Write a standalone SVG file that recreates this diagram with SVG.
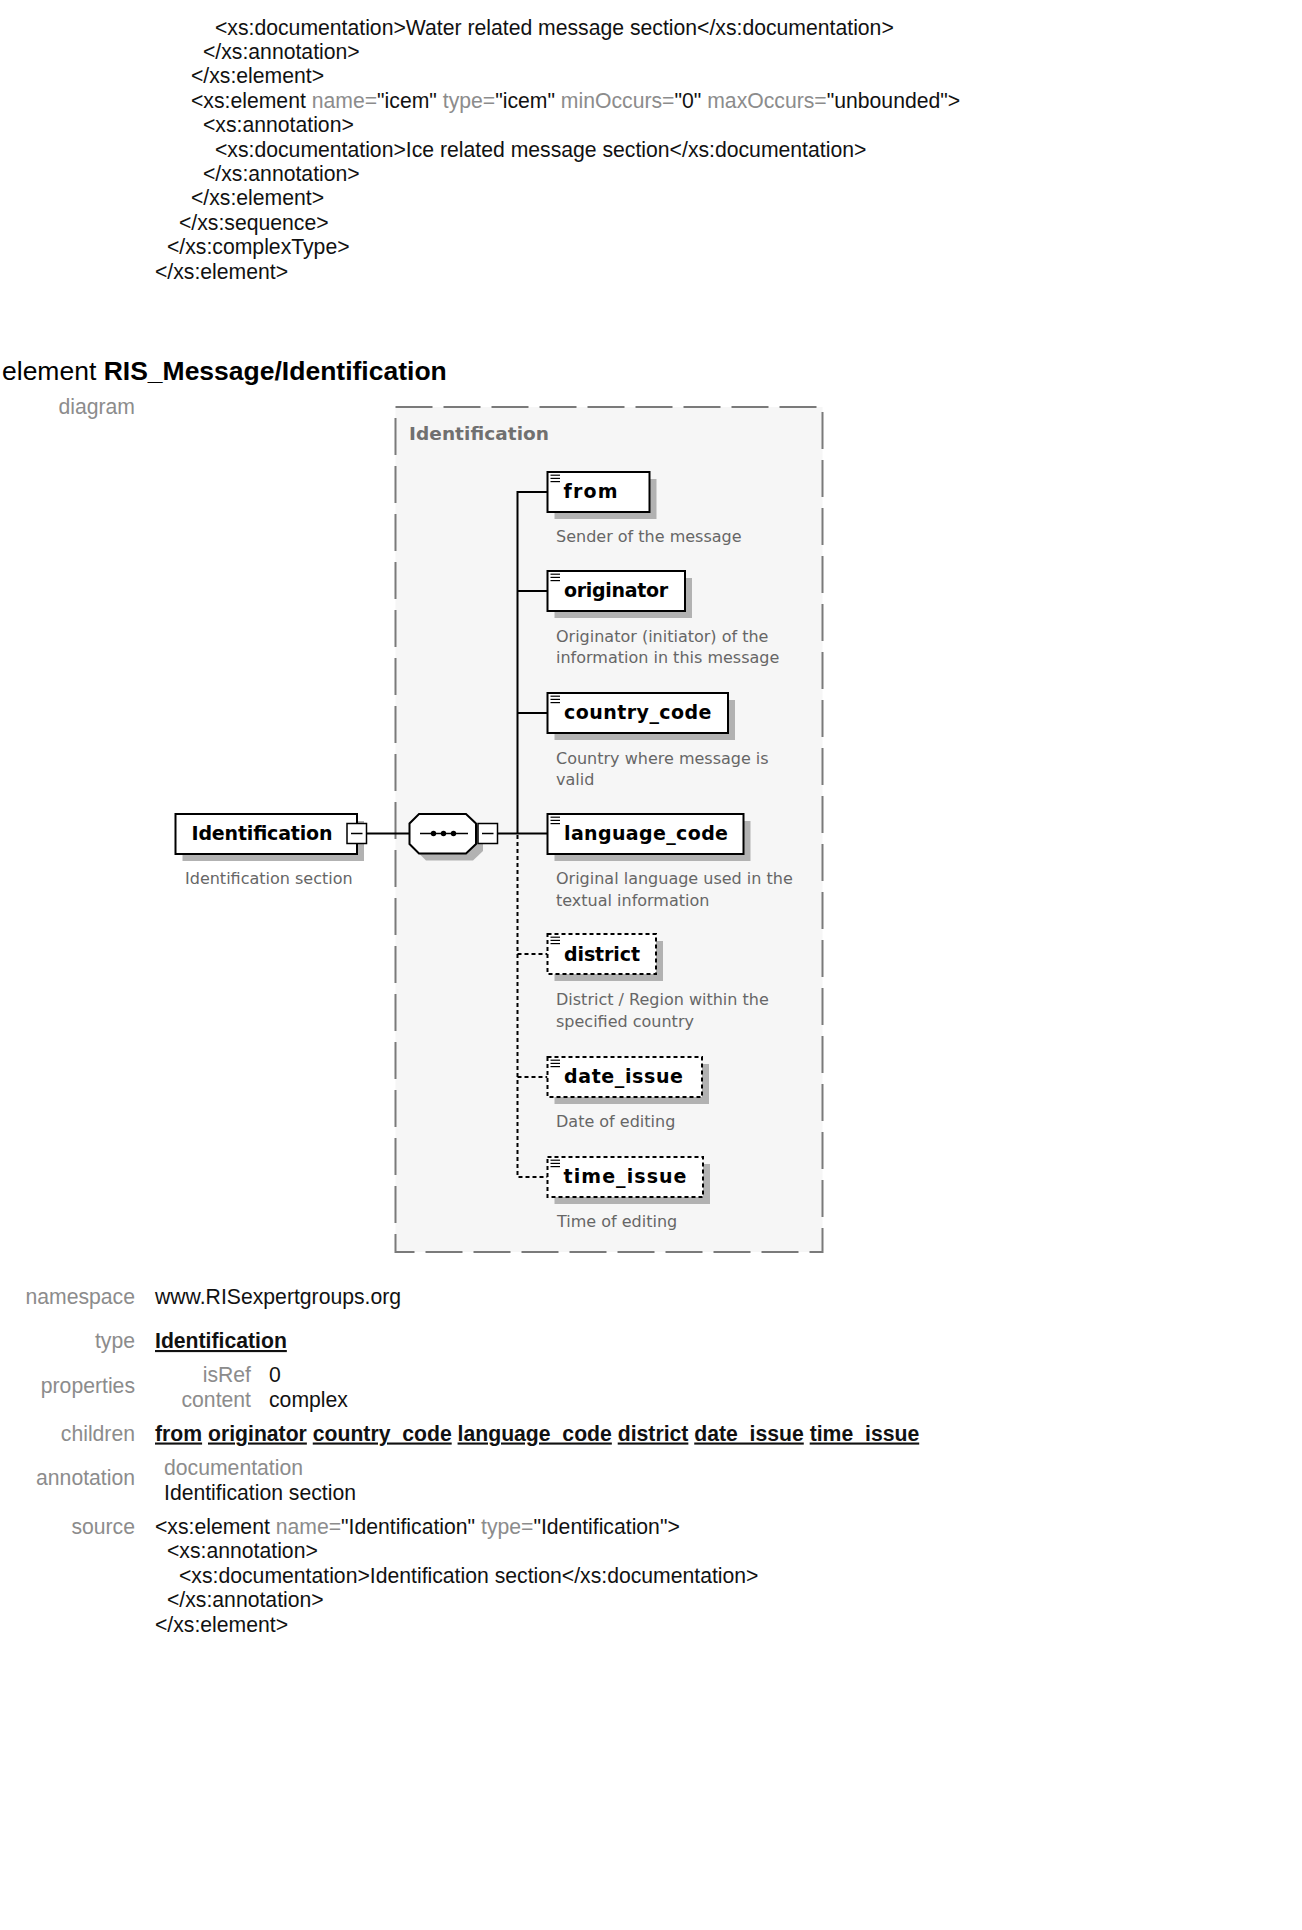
<svg xmlns="http://www.w3.org/2000/svg" xmlns:xlink="http://www.w3.org/1999/xlink" width="1302" height="1930" viewBox="0 0 1302 1930">
<style>
.code{font-family:"Liberation Sans",Arial,sans-serif;font-size:21.2px;fill:#111}
.att{fill:#8c8c8c}
.lbl{font-family:"Liberation Sans",Arial,sans-serif;font-size:21.2px;fill:#8c8c8c;text-anchor:end}
.lnk{font-weight:bold;text-decoration:underline}
.nm{font-family:"DejaVu Sans",Verdana,sans-serif;font-size:19px;font-weight:bold;fill:#000}
.desc{font-family:"DejaVu Sans",Verdana,sans-serif;font-size:16px;fill:#666}
.box{fill:#fff;stroke:#000;stroke-width:2}
.dbox{fill:#fff;stroke:#000;stroke-width:2;stroke-dasharray:4 3}
.sbox{fill:#fff;stroke:#000;stroke-width:1.5}
.shadow{fill:#b2b2b2}
.ln{stroke:#000;stroke-width:2;fill:none}
.dln{stroke:#000;stroke-width:2;fill:none;stroke-dasharray:4 3}
.icon{stroke:#000;stroke-width:1.2}
</style>
<defs>
<g id="ic">
<line class="icon" x1="3" y1="3.2" x2="12.5" y2="3.2"/>
<line class="icon" x1="3" y1="6.4" x2="12.5" y2="6.4"/>
<line class="icon" x1="3" y1="9.6" x2="12.5" y2="9.6"/>
</g>
</defs>
<rect width="1302" height="1930" fill="#fff"/>

<!-- source code continuation at top -->
<g id="top-source">
<text class="code" x="215" y="34.5">&lt;xs:documentation&gt;Water related message section&lt;/xs:documentation&gt;</text>
<text class="code" x="203" y="58.9">&lt;/xs:annotation&gt;</text>
<text class="code" x="191" y="83.3">&lt;/xs:element&gt;</text>
<text class="code" x="191" y="107.7">&lt;xs:element <tspan class="att">name=</tspan>"icem" <tspan class="att">type=</tspan>"icem" <tspan class="att">minOccurs=</tspan>"0" <tspan class="att">maxOccurs=</tspan>"unbounded"&gt;</text>
<text class="code" x="203" y="132.1">&lt;xs:annotation&gt;</text>
<text class="code" x="215" y="156.5">&lt;xs:documentation&gt;Ice related message section&lt;/xs:documentation&gt;</text>
<text class="code" x="203" y="180.9">&lt;/xs:annotation&gt;</text>
<text class="code" x="191" y="205.3">&lt;/xs:element&gt;</text>
<text class="code" x="179" y="229.7">&lt;/xs:sequence&gt;</text>
<text class="code" x="167" y="254.1">&lt;/xs:complexType&gt;</text>
<text class="code" x="155" y="278.5">&lt;/xs:element&gt;</text>
</g>

<g id="heading">
<text class="code" x="2" y="380" style="font-size:26.5px;fill:#000">element <tspan font-weight="bold">RIS_Message/Identification</tspan></text>
<text class="lbl" x="135" y="414">diagram</text>
</g>

<!-- type frame -->
<g id="frame-Identification">
<rect x="395.5" y="407" width="427" height="845" fill="#f6f6f6" stroke="#7a7a7a" stroke-width="2" stroke-dasharray="37 11"/>
<text x="409" y="440" style="font-family:'DejaVu Sans',Verdana,sans-serif;font-size:18.5px;font-weight:bold;fill:#707070" textLength="140">Identification</text>
</g>

<g id="connectors">
<line class="ln" x1="366.5" y1="833.5" x2="409.5" y2="833.5"/>
<line class="ln" x1="476" y1="833.5" x2="478" y2="833.5"/>
<line class="ln" x1="497.5" y1="833.5" x2="547.5" y2="833.5"/>
<path class="ln" d="M547.5 492 H517.5 V834"/>
<line class="ln" x1="517.5" y1="591" x2="547.5" y2="591"/>
<line class="ln" x1="517.5" y1="713" x2="547.5" y2="713"/>
<path class="dln" d="M517.5 835 V1177 H547.5"/>
<line class="dln" x1="517.5" y1="954" x2="547.5" y2="954"/>
<line class="dln" x1="517.5" y1="1077" x2="547.5" y2="1077"/>
</g>

<g id="node-Identification">
<rect class="shadow" x="182.5" y="821" width="181.5" height="40"/>
<rect class="box" x="175.5" y="814" width="181.5" height="40"/>
<text class="nm" x="191.5" y="840" textLength="141">Identification</text>
<rect class="sbox" x="347" y="823.5" width="19.5" height="20"/>
<line class="ln" style="stroke-width:1.5" x1="351" y1="833.5" x2="362.5" y2="833.5"/>
<text class="desc" x="185" y="884">Identification section</text>
</g>

<g id="node-sequence">
<polygon class="shadow" points="426,821 473,821 483,830.5 483,851 473,860.5 426,860.5 416.5,851 416.5,830.5"/>
<polygon class="box" points="419,814 466,814 476,823.5 476,844 466,853.5 419,853.5 409.5,844 409.5,823.5"/>
<line class="ln" style="stroke-width:1.5" x1="420" y1="833.5" x2="468" y2="833.5"/>
<circle cx="433.5" cy="833.5" r="2.7" fill="#000"/>
<circle cx="443.5" cy="833.5" r="2.7" fill="#000"/>
<circle cx="453.5" cy="833.5" r="2.7" fill="#000"/>
<rect class="sbox" x="478" y="823.5" width="19.5" height="20"/>
<line class="ln" style="stroke-width:1.5" x1="482" y1="833.5" x2="493.5" y2="833.5"/>
</g>

<g id="node-from">
<rect class="shadow" x="554.5" y="479" width="102" height="40"/>
<rect class="box" x="547.5" y="472" width="102" height="40"/>
<use xlink:href="#ic" href="#ic" x="547.5" y="472"/>
<text class="nm" x="563.5" y="498" textLength="54">from</text>
<text class="desc" x="556" y="542">Sender of the message</text>
</g>

<g id="node-originator">
<rect class="shadow" x="554.5" y="578" width="137.5" height="40"/>
<rect class="box" x="547.5" y="571" width="137.5" height="40"/>
<use xlink:href="#ic" href="#ic" x="547.5" y="571"/>
<text class="nm" x="564" y="597" textLength="104">originator</text>
<text class="desc" x="556" y="641.5">Originator (initiator) of the</text>
<text class="desc" x="556" y="663">information in this message</text>
</g>

<g id="node-country_code">
<rect class="shadow" x="554.5" y="700" width="180.5" height="40"/>
<rect class="box" x="547.5" y="693" width="180.5" height="40"/>
<use xlink:href="#ic" href="#ic" x="547.5" y="693"/>
<text class="nm" x="564" y="719" textLength="147.5">country_code</text>
<text class="desc" x="556" y="763.5">Country where message is</text>
<text class="desc" x="556" y="785">valid</text>
</g>

<g id="node-language_code">
<rect class="shadow" x="554.5" y="821" width="196" height="40"/>
<rect class="box" x="547.5" y="814" width="196" height="40"/>
<use xlink:href="#ic" href="#ic" x="547.5" y="814"/>
<text class="nm" x="564" y="840" textLength="164">language_code</text>
<text class="desc" x="556" y="884">Original language used in the</text>
<text class="desc" x="556" y="905.5">textual information</text>
</g>

<g id="node-district">
<rect class="shadow" x="554.5" y="941" width="108.5" height="40"/>
<rect class="dbox" x="547.5" y="934" width="108.5" height="40"/>
<use xlink:href="#ic" href="#ic" x="547.5" y="934"/>
<text class="nm" x="564" y="960.5" textLength="76">district</text>
<text class="desc" x="556" y="1005">District / Region within the</text>
<text class="desc" x="556" y="1027">specified country</text>
</g>

<g id="node-date_issue">
<rect class="shadow" x="554.5" y="1064" width="154.5" height="40"/>
<rect class="dbox" x="547.5" y="1057" width="154.5" height="40"/>
<use xlink:href="#ic" href="#ic" x="547.5" y="1057"/>
<text class="nm" x="564" y="1083" textLength="119">date_issue</text>
<text class="desc" x="556" y="1127">Date of editing</text>
</g>

<g id="node-time_issue">
<rect class="shadow" x="554.5" y="1164" width="155.5" height="40"/>
<rect class="dbox" x="547.5" y="1157" width="155.5" height="40"/>
<use xlink:href="#ic" href="#ic" x="547.5" y="1157"/>
<text class="nm" x="563.5" y="1183" textLength="123">time_issue</text>
<text class="desc" x="557" y="1227">Time of editing</text>
</g>

<!-- properties table -->
<g id="properties">
<text class="lbl" x="135" y="1303.5">namespace</text>
<text class="code" x="155" y="1303.5">www.RISexpertgroups.org</text>
<text class="lbl" x="135" y="1348">type</text>
<text class="code lnk" x="155" y="1348">Identification</text>
<text class="lbl" x="135" y="1393">properties</text>
<text class="lbl" x="251" y="1381.5">isRef</text>
<text class="code" x="269" y="1381.5">0</text>
<text class="lbl" x="251" y="1406.5">content</text>
<text class="code" x="269" y="1406.5">complex</text>
<text class="lbl" x="135" y="1440.5">children</text>
<text class="code" x="155" y="1440.5"><tspan class="lnk">from</tspan> <tspan class="lnk">originator</tspan> <tspan class="lnk">country_code</tspan> <tspan class="lnk">language_code</tspan> <tspan class="lnk">district</tspan> <tspan class="lnk">date_issue</tspan> <tspan class="lnk">time_issue</tspan></text>
<text class="lbl" x="135" y="1485">annotation</text>
<text class="code" x="164" y="1475" style="fill:#8c8c8c">documentation</text>
<text class="code" x="164" y="1500">Identification section</text>
<text class="lbl" x="135" y="1533.5">source</text>
<text class="code" x="155" y="1533.5">&lt;xs:element <tspan class="att">name=</tspan>"Identification" <tspan class="att">type=</tspan>"Identification"&gt;</text>
<text class="code" x="167" y="1558">&lt;xs:annotation&gt;</text>
<text class="code" x="179" y="1582.5">&lt;xs:documentation&gt;Identification section&lt;/xs:documentation&gt;</text>
<text class="code" x="167" y="1607">&lt;/xs:annotation&gt;</text>
<text class="code" x="155" y="1631.5">&lt;/xs:element&gt;</text>
</g>
</svg>
